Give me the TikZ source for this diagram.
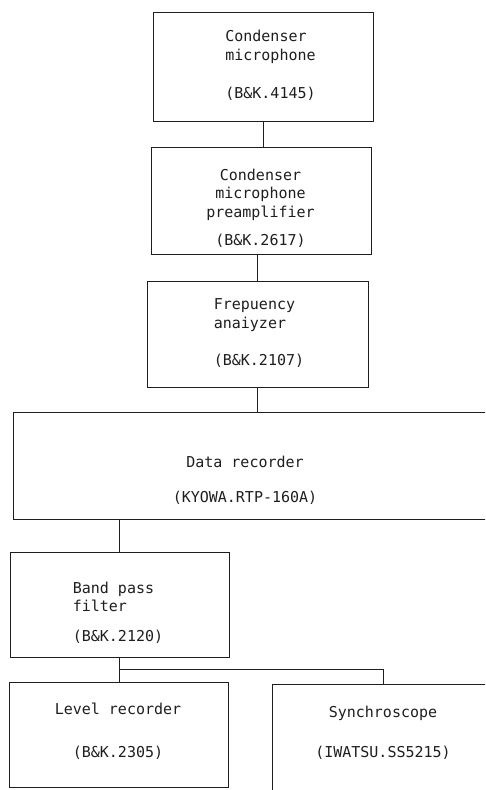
\documentclass[tikz,border=0pt]{standalone}
\usepackage{fontspec}
\setmonofont{DejaVu Sans Mono}
\usetikzlibrary{calc,positioning}
\definecolor{bkInk}{HTML}{1E1E1E}
\tikzset{
 chain/.style={x=1pt,y=-1pt,line join=miter},
 unit/.style={rectangle,draw=bkInk,line width=.9pt,inner sep=0pt},
 tag/.style={font=\fontsize{15}{18.5}\selectfont\ttfamily,text=bkInk,inner sep=0pt,align=center},
 tagleft/.style={tag,align=left},
 wire/.style={draw=bkInk,line width=.9pt}
}

\begin{document}
\begin{tikzpicture}[chain]
 \useasboundingbox (0,0) rectangle (485,790);
 \clip (0,0) rectangle (485,790);
 % measuring chain, top to bottom
 \node[unit,minimum width=220pt,minimum height=109pt] (mic) at (263,66.5) {};
 \node[unit,minimum width=220pt,minimum height=107pt] (pre) at (261,200.5) {};
 \node[unit,minimum width=221pt,minimum height=106pt] (ana) at (257.5,334) {};
 \node[unit,minimum width=477pt,minimum height=107pt] (rec) at (251.5,465.5) {};
 \node[unit,minimum width=219pt,minimum height=105pt] (bpf) at (119.5,604.5) {};
 \node[unit,minimum width=219pt,minimum height=105pt] (lvl) at (118.5,734.5) {};
 \node[unit,minimum width=222pt,minimum height=126pt] (syn) at (383,747) {};
 % texts
 \node[tagleft] (mic-t) at (270.5,65.5) {Condenser\\microphone\\[19.5pt](B\&K.4145)};
 \node[tag] (pre-t) at (260.5,208) {Condenser\\microphone\\preamplifier\\[9.5pt](B\&K.2617)};
 \node[tagleft] (ana-t) at (259,333) {Frepuency\\anaiyzer\\[18.5pt](B\&K.2107)};
 \node[tag] (rec-t) at (245,480) {Data recorder\\[16.5pt](KYOWA.RTP-160A)};
 \node[tagleft] (bpf-t) at (118,613) {Band pass\\filter\\[11.5pt](B\&K.2120)};
 \node[tag] (lvl-t) at (118,731) {Level recorder\\[24.5pt](B\&K.2305)};
 \node[tag] (syn-t) at (383,732.5) {Synchroscope\\[21.5pt](IWATSU.SS5215)};
 % connections
 \draw[wire] (mic.south) -- (mic.south |- pre.north);
 \draw[wire] (ana.north |- pre.south) -- (ana.north);
 \draw[wire] (ana.south) -- (ana.south |- rec.north);
 \draw[wire] (bpf.north |- rec.south) -- (bpf.north);
 \coordinate (fork) at ($(bpf.south)+(0,12)$);
 \draw[wire] (bpf.south) -- (bpf.south |- lvl.north);
 \draw[wire] (fork) -| (syn.north);
\end{tikzpicture}
\end{document}
